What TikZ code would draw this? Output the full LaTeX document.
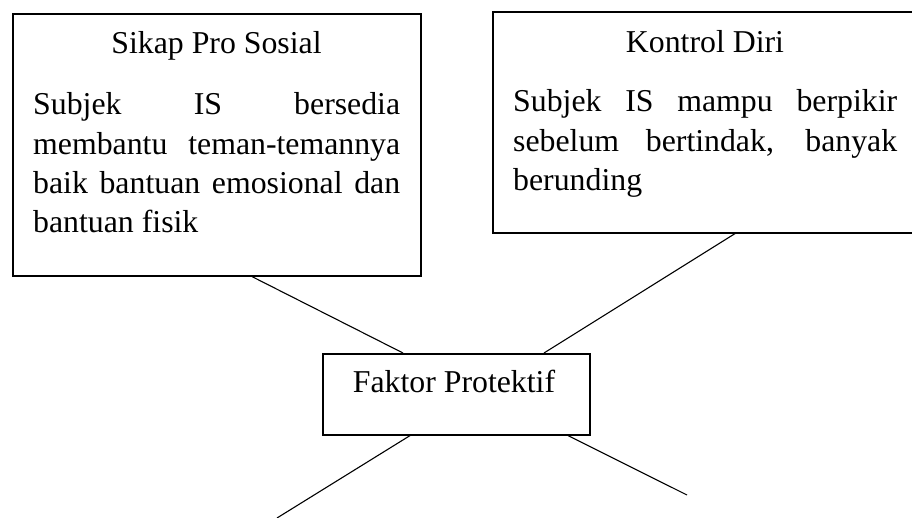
\documentclass[tikz,border=0pt]{standalone}
\usepackage{fontspec}
\setmainfont{Liberation Serif}
\begin{document}
\begin{tikzpicture}[x=1pt,y=-1pt,
  boxstyle/.style={draw, line width=1.6pt, inner sep=0pt, anchor=north west},
  txt/.style={inner sep=0pt, anchor=base west, font=\fontsize{31.8}{39.3}\selectfont},
  ttl/.style={inner sep=0pt, anchor=base, font=\fontsize{31.8}{39.3}\selectfont},
  link/.style={line width=1.1pt}]
\useasboundingbox (0,0) rectangle (912,518);
% boxes
\node[boxstyle, minimum width=408pt, minimum height=262pt] (lbox) at (12,13) {};
\node[boxstyle, minimum width=426pt, minimum height=221pt] (rbox) at (492,11) {};
\node[boxstyle, minimum width=267pt, minimum height=81pt] (cbox) at (322,353) {};
% left box text
\node[ttl] (ltitle) at (216.5,54) {Sikap Pro Sosial};
\node[txt] (l1) at (33,115) {\makebox[367pt][s]{Subjek IS bersedia}};
\node[txt] (l2) at (33,154.3) {\makebox[367pt][s]{membantu teman-temannya}};
\node[txt] (l3) at (33,193.6) {\makebox[367pt][s]{baik bantuan emosional dan}};
\node[txt] (l4) at (33,233) {bantuan fisik};
% right box text
\node[ttl] (rtitle) at (705,52.3) {Kontrol Diri};
\node[txt] (r1) at (513,111.8) {\makebox[384pt][s]{Subjek IS mampu berpikir}};
\node[txt] (r2) at (513,151.1) {\makebox[384pt][s]{sebelum bertindak, banyak}};
\node[txt] (r3) at (513,190.4) {berunding};
% centre text
\node[ttl] (ctitle) at (454,392) {Faktor Protektif};
% free ends
\coordinate (bl) at (277,518);
\coordinate (br) at (687,495);
% connectors
\draw[link] ([xshift=240pt]lbox.south west) -- ([xshift=81pt]cbox.north west);
\draw[link] ([xshift=222pt]cbox.north west) -- ([xshift=243pt]rbox.south west);
\draw[link] ([xshift=88pt]cbox.south west) -- (bl);
\draw[link] ([xshift=246pt]cbox.south west) -- (br);
\end{tikzpicture}
\end{document}
